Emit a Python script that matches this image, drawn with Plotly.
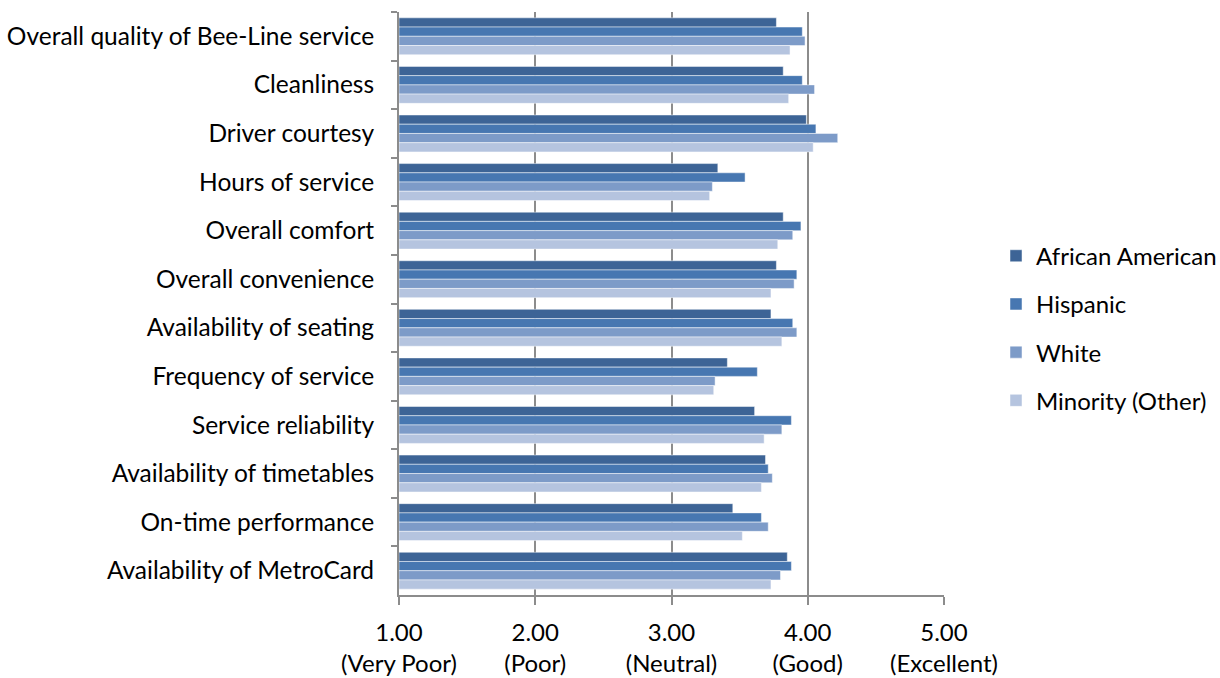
import plotly.graph_objects as go

categories = [
    "Overall quality of Bee-Line service",
    "Cleanliness",
    "Driver courtesy",
    "Hours of service",
    "Overall comfort",
    "Overall convenience",
    "Availability of seating",
    "Frequency of service",
    "Service reliability",
    "Availability of timetables",
    "On-time performance",
    "Availability of MetroCard",
]

african_american = [3.77, 3.82, 3.99, 3.34, 3.82, 3.77, 3.73, 3.41, 3.61, 3.69, 3.45, 3.85]
hispanic =         [3.96, 3.96, 4.06, 3.54, 3.95, 3.92, 3.89, 3.63, 3.88, 3.71, 3.66, 3.88]
white =            [3.98, 4.05, 4.22, 3.30, 3.89, 3.90, 3.92, 3.32, 3.81, 3.74, 3.71, 3.80]
minority_other =   [3.87, 3.86, 4.04, 3.28, 3.78, 3.73, 3.81, 3.31, 3.68, 3.66, 3.52, 3.73]

series_names = ["African American", "Hispanic", "White", "Minority (Other)"]
series_values = [african_american, hispanic, white, minority_other]
colors = ["#3D6496", "#4777B1", "#7D9BC8", "#B5C4DF"]

axis_base = 1.0
tick_vals = [1, 2, 3, 4, 5]
tick_text = ["1.00<br>(Very Poor)", "2.00<br>(Poor)", "3.00<br>(Neutral)",
             "4.00<br>(Good)", "5.00<br>(Excellent)"]

fig = go.Figure()
for name, vals, col in zip(series_names, series_values, colors):
    fig.add_trace(go.Bar(
        y=categories, x=[v - axis_base for v in vals], base=axis_base,
        name=name, orientation="h",
        marker=dict(color=col, line=dict(color="rgba(255,255,255,0.6)", width=0.8)),
        legendgroup=name,
    ))

fig.update_layout(
    barmode="group",
    bargap=0.24,
    bargroupgap=0,
    width=1220, height=678,
    margin=dict(l=399, r=276, t=12, b=83),
    plot_bgcolor="white", paper_bgcolor="white",
    font=dict(family="Lato, Open Sans, sans-serif", size=24, color="#000000"),
    legend=dict(
        xref="container", yref="container",
        x=0.8164, y=0.516, xanchor="left", yanchor="middle",
        font=dict(size=24), tracegroupgap=14, traceorder="grouped",
        borderwidth=0,
    ),
    showlegend=True,
)
fig.update_xaxes(
    range=[1, 5], tickvals=tick_vals, ticktext=tick_text,
    showgrid=True, gridcolor="#8C8C8C", gridwidth=2,
    showline=True, linecolor="#8C8C8C", linewidth=2,
    ticks="outside", tickcolor="#8C8C8C", ticklen=8, tickwidth=1.5,
    zeroline=False, tickfont=dict(size=24), ticklabelstandoff=7,
    automargin=False,
)
fig.update_yaxes(
    autorange="reversed", type="category",
    showline=True, linecolor="#8C8C8C", linewidth=2,
    ticks="outside", tickson="boundaries", tickcolor="#8C8C8C", ticklen=6, tickwidth=1.5,
    showgrid=False, tickfont=dict(size=24.5), ticklabelstandoff=18,
    automargin=False,
)

fig.write_html(
    "out.html",
    config={"displayModeBar": False},
    post_script="document.body.style.margin='0';document.body.style.overflow='hidden';",
)
